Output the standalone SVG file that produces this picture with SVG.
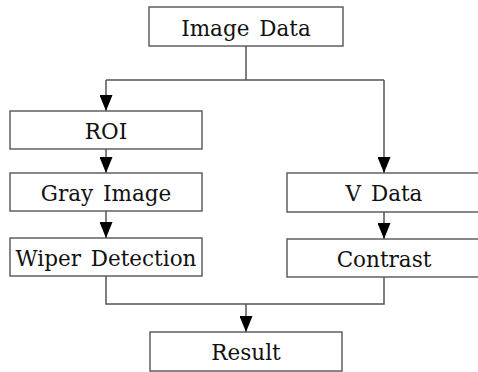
<svg xmlns="http://www.w3.org/2000/svg" width="478" height="372" viewBox="0 0 478 372">
<style>
.box{fill:#fff;stroke:#555;stroke-width:1.4}
.lbl{font-family:"DejaVu Serif","Liberation Serif",serif;font-size:21.5px;fill:#111;text-anchor:middle;word-spacing:3px}
.con{fill:none;stroke:#555;stroke-width:1.5}
</style>
<defs>
<marker id="arr" markerUnits="userSpaceOnUse" markerWidth="16" markerHeight="13" viewBox="0 0 16 13" refX="16" refY="6.5" orient="auto">
<path d="M0,0 L16,6.5 L0,13 Z" fill="#000"/>
</marker>
</defs>
<rect width="478" height="372" fill="#fff"/>
<g id="connectors">
<path class="con" d="M246,46 V80"/>
<path class="con" d="M106,80 H384"/>
<path class="con" d="M106,80 V111" marker-end="url(#arr)"/>
<path class="con" d="M384,80 V173" marker-end="url(#arr)"/>
<path class="con" d="M106,149 V173" marker-end="url(#arr)"/>
<path class="con" d="M106,211 V238" marker-end="url(#arr)"/>
<path class="con" d="M384,212 V239" marker-end="url(#arr)"/>
<path class="con" d="M106,276 V304 H384 V277"/>
<path class="con" d="M246,304 V332" marker-end="url(#arr)"/>
</g>
<g id="image-data"><rect class="box" x="149" y="7" width="194" height="39"/><text class="lbl" x="246" y="35.5">Image Data</text></g>
<g id="roi"><rect class="box" x="10" y="111" width="192" height="38"/><text class="lbl" x="106" y="138.5">ROI</text></g>
<g id="gray-image"><rect class="box" x="10" y="173" width="192" height="38"/><text class="lbl" x="106" y="200.5">Gray Image</text></g>
<g id="wiper-detection"><rect class="box" x="10" y="238" width="192" height="38"/><text class="lbl" x="106" y="266" word-spacing="1">Wiper Detection</text></g>
<g id="v-data"><rect class="box" x="287" y="173" width="200" height="39"/><text class="lbl" x="384" y="201">V Data</text></g>
<g id="contrast"><rect class="box" x="287" y="239" width="200" height="38"/><text class="lbl" x="384" y="266.5">Contrast</text></g>
<g id="result"><rect class="box" x="150" y="332" width="192" height="39"/><text class="lbl" x="246" y="360">Result</text></g>
</svg>
